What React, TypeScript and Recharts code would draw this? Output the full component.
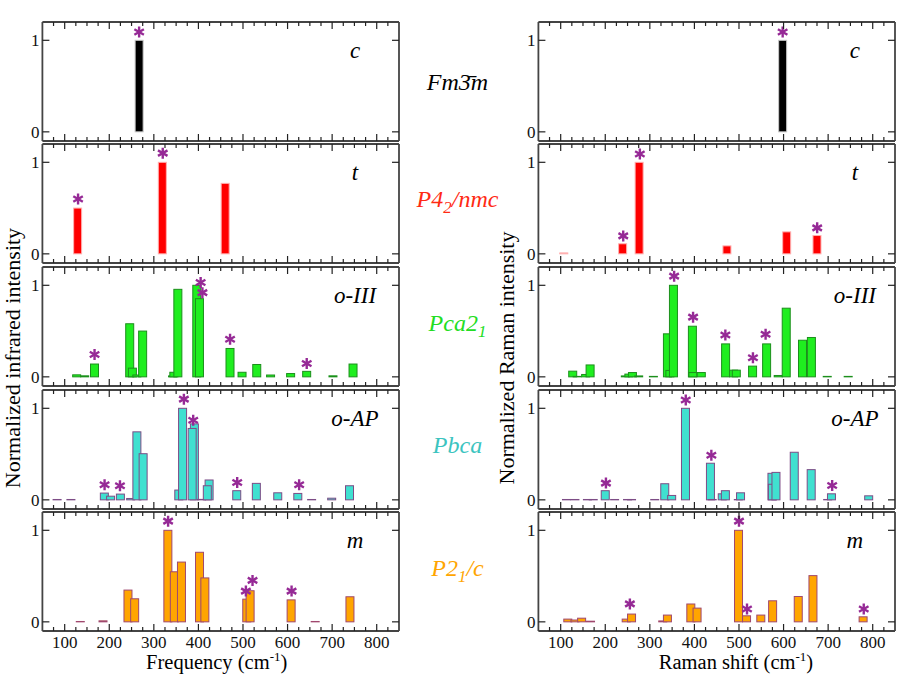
import React from 'react';
import { ComposedChart, Bar, Scatter, XAxis, YAxis } from 'recharts';

// ---- axis ticks ----
const xTickValues = [
  75, 100, 125, 150, 175, 200, 225, 250, 275, 300, 325, 350, 375, 400, 425, 450,
  475, 500, 525, 550, 575, 600, 625, 650, 675, 700, 725, 750, 775, 800, 825,
];
const xLabelValues = [100, 200, 300, 400, 500, 600, 700, 800];
const yTickValues = [0, 1];

const panelNames = ['c', 't', 'o-III', 'o-AP', 'm'];

// ---- infrared (left column) ----
const irCubicFreq = [267];
const irCubicInt = [1];
const irCubicStarFreq = [267];
const irCubicStarInt = [1.09];

const irTetFreq = [130, 320, 461];
const irTetInt = [0.5, 1.0, 0.77];
const irTetStarFreq = [130, 320];
const irTetStarInt = [0.6, 1.1];

const irO3Freq = [127, 145, 167, 246, 252, 262, 275, 342, 345, 354, 396.5, 402.5, 471, 498, 531, 562, 607, 643, 702, 747];
const irO3Int = [0.022, 0.011, 0.14, 0.58, 0.095, 0.02, 0.5, 0.01, 0.05, 0.956, 1.0, 0.854, 0.31, 0.05, 0.135, 0.02, 0.036, 0.06, 0.011, 0.14];
const irO3StarFreq = [167, 405, 409, 471, 643];
const irO3StarInt = [0.245, 1.03, 0.92, 0.41, 0.146];

const irApFreq = [83, 114, 189, 203, 225, 248, 262, 276, 356, 364.5, 391, 386, 407, 424, 420, 486, 530, 578, 623, 654, 699, 739];
const irApInt = [0.004, 0.004, 0.074, 0.04, 0.063, 0.015, 0.743, 0.504, 0.107, 1.0, 0.83, 0.78, 0.005, 0.217, 0.154, 0.1, 0.18, 0.077, 0.07, 0.004, 0.018, 0.154];
const irApStarFreq = [189.5, 224, 367.4, 388.3, 487, 626];
const irApStarInt = [0.165, 0.154, 1.1, 0.87, 0.19, 0.165];

const irMonoFreq = [135, 186, 242, 257, 331.5, 346, 362, 402.5, 414.5, 508.5, 516, 608, 662, 740];
const irMonoInt = [0.004, 0.011, 0.347, 0.252, 1.0, 0.547, 0.653, 0.76, 0.48, 0.248, 0.34, 0.24, 0.004, 0.274];
const irMonoStarFreq = [332, 506.5, 521.4, 609];
const irMonoStarInt = [1.1, 0.336, 0.453, 0.336];

// ---- Raman (right column) ----
const raCubicFreq = [598];
const raCubicInt = [1];
const raCubicStarFreq = [598];
const raCubicStarInt = [1.09];

const raTetFreq = [107, 239, 276, 473, 607, 675];
const raTetInt = [0.01, 0.11, 1.0, 0.087, 0.24, 0.2];
const raTetStarFreq = [240.3, 277.6, 675.4];
const raTetStarInt = [0.196, 1.09, 0.284];

const raO3Freq = [127, 137, 156, 166, 245, 253, 261, 275, 308, 339.5, 345, 353, 395.5, 396.5, 415.5, 470, 488, 494, 530.5, 562, 588, 606, 642.5, 662.5, 698, 745];
const raO3Int = [0.062, 0.005, 0.026, 0.13, 0.01, 0.03, 0.047, 0.01, 0.005, 0.47, 0.07, 1.0, 0.553, 0.047, 0.047, 0.36, 0.073, 0.073, 0.117, 0.36, 0.015, 0.75, 0.4, 0.43, 0.005, 0.005];
const raO3StarFreq = [354.5, 397, 469.4, 531.3, 559.7];
const raO3StarInt = [1.1, 0.652, 0.458, 0.209, 0.465];

const raApFreq = [113, 132, 160, 173, 200, 221, 250, 259, 311, 333.5, 349, 380, 436, 440, 462.5, 469.5, 498.5, 503.5, 574, 575, 583, 624, 662, 699, 707.5, 791];
const raApInt = [0.004, 0.004, 0.004, 0.004, 0.1, 0.004, 0.004, 0.004, 0.004, 0.176, 0.048, 1.0, 0.4, 0.004, 0.066, 0.1, 0.004, 0.077, 0.29, 0.17, 0.3, 0.52, 0.33, 0.004, 0.066, 0.044];
const raApStarFreq = [201.5, 380.6, 438, 709];
const raApStarInt = [0.183, 1.09, 0.487, 0.157];

const raMonoFreq = [116, 132, 147, 167, 247, 259, 329, 339.5, 392, 406, 499, 517, 549, 575.5, 633, 666, 778.5];
const raMonoInt = [0.03, 0.02, 0.04, 0.007, 0.03, 0.085, 0.01, 0.074, 0.195, 0.15, 1.0, 0.066, 0.074, 0.23, 0.277, 0.505, 0.055];
const raMonoStarFreq = [255.2, 500, 518, 779.9];
const raMonoStarInt = [0.196, 1.1, 0.14, 0.14];

// ---- styling ----
const SERIF = {
  fontFamily:
    "'Liberation Serif', 'Times New Roman', Times, Tinos, 'DejaVu Serif', 'Noto Serif', FreeSerif, serif",
};
const barFills = ['#000000', '#ff0000', '#1fee1f', '#40e0d0', '#ffa500'];
const barStrokes = ['#c8c8c8', '#ffb0b0', '#1c8f1c', '#7d4c86', '#a0486e'];
const groupColors = ['#000000', '#ff2a14', '#22dd22', '#3cc4c0', '#ffa500'];
const STAR = '#962a96';
const TICK = '#222';
const FRAME = { stroke: '#444', strokeWidth: 1.8 };

const PLOT_LEFT = 42.4;
const PLOT_W = 356.6;
const RIGHT_COL = 538.3;
const TOP0 = 21.7;
const PITCH = 122.6;
const PLOT_H = 119;
const YAXIS_W = 30;
const PAD_TOP = 5;
const PAD_BOTTOM = 30;
const CHART_W = PLOT_LEFT + PLOT_W + 10;
const CHART_H = PAD_TOP + PLOT_H + PAD_BOTTOM;
const BAR_W = 8;

const toRows = (freq: number[], int: number[]) => freq.map((x, i) => ({ x, y: int[i] }));

const irPanels = [
  { bars: toRows(irCubicFreq, irCubicInt), stars: toRows(irCubicStarFreq, irCubicStarInt) },
  { bars: toRows(irTetFreq, irTetInt), stars: toRows(irTetStarFreq, irTetStarInt) },
  { bars: toRows(irO3Freq, irO3Int), stars: toRows(irO3StarFreq, irO3StarInt) },
  { bars: toRows(irApFreq, irApInt), stars: toRows(irApStarFreq, irApStarInt) },
  { bars: toRows(irMonoFreq, irMonoInt), stars: toRows(irMonoStarFreq, irMonoStarInt) },
];
const ramanPanels = [
  { bars: toRows(raCubicFreq, raCubicInt), stars: toRows(raCubicStarFreq, raCubicStarInt) },
  { bars: toRows(raTetFreq, raTetInt), stars: toRows(raTetStarFreq, raTetStarInt) },
  { bars: toRows(raO3Freq, raO3Int), stars: toRows(raO3StarFreq, raO3StarInt) },
  { bars: toRows(raApFreq, raApInt), stars: toRows(raApStarFreq, raApStarInt) },
  { bars: toRows(raMonoFreq, raMonoInt), stars: toRows(raMonoStarFreq, raMonoStarInt) },
];

function Asterisk(props: any) {
  const { cx, cy } = props;
  if (cx == null || cy == null) return null;
  const r = 5.5;
  const dx = r * Math.cos(Math.PI / 6);
  const dy = r * Math.sin(Math.PI / 6);
  return (
    <g stroke={STAR} strokeWidth={2.4}>
      <line x1={cx} y1={cy - r} x2={cx} y2={cy + r} />
      <line x1={cx - dx} y1={cy - dy} x2={cx + dx} y2={cy + dy} />
      <line x1={cx - dx} y1={cy + dy} x2={cx + dx} y2={cy - dy} />
    </g>
  );
}

// fixed-width rectangle centred where the library put the bar
const makeBarShape = (fill: string, stroke: string) => (props: any) => {
  const { x, y, width, height } = props;
  if (x == null || y == null) return null;
  const cx = x + width / 2;
  return (
    <rect x={cx - BAR_W / 2} y={y} width={BAR_W} height={Math.max(height, 0)}
      fill={fill} stroke={stroke} strokeWidth={1} />
  );
};

const makeXTick = (side: 'top' | 'bottom', showLabel: boolean) => (p: any) => {
  const { x, y, payload } = p;
  const major = xLabelValues.includes(payload.value);
  const len = major ? 7 : 4;
  const dir = side === 'bottom' ? -1 : 1;
  return (
    <g>
      <line x1={x} x2={x} y1={y} y2={y + dir * len} stroke={TICK} strokeWidth={1.2} />
      {showLabel && major && (
        <text x={x} y={y + 16.5} textAnchor="middle" fontSize={17} style={SERIF} fill="#111">
          {payload.value}
        </text>
      )}
    </g>
  );
};

const makeYTick = (side: 'left' | 'right') => (p: any) => {
  const { x, y, payload } = p;
  const dir = side === 'left' ? 1 : -1;
  return (
    <g>
      <line x1={x} x2={x + dir * 7} y1={y} y2={y} stroke={TICK} strokeWidth={1.2} />
      {side === 'left' && (
        <text x={x - 3} y={y + 6} textAnchor="end" fontSize={17} style={SERIF} fill="#111">
          {payload.value}
        </text>
      )}
    </g>
  );
};

function Panel({ idx, left, bars, stars, showXLabels }: any) {
  return (
    <div style={{ position: 'absolute', left, top: TOP0 + idx * PITCH - PAD_TOP }}>
      <ComposedChart
        width={CHART_W}
        height={CHART_H}
        data={bars}
        margin={{ top: PAD_TOP - 1, right: 9, bottom: PAD_BOTTOM - 1, left: PLOT_LEFT - YAXIS_W }}
      >
        <XAxis xAxisId="b" dataKey="x" type="number" orientation="bottom" domain={[50, 850]}
          allowDataOverflow ticks={xTickValues} interval={0} height={1} tickSize={0} tickMargin={0}
          tickLine={false} axisLine={FRAME} tick={makeXTick('bottom', showXLabels)} />
        <XAxis xAxisId="t" dataKey="x" type="number" orientation="top" domain={[50, 850]}
          allowDataOverflow ticks={xTickValues} interval={0} height={1} tickSize={0} tickMargin={0}
          tickLine={false} axisLine={FRAME} tick={makeXTick('top', false)} />
        <YAxis yAxisId="l" type="number" domain={[-0.1, 1.2]} allowDataOverflow ticks={yTickValues}
          interval={0} width={YAXIS_W} tickSize={0} tickMargin={0} tickLine={false} axisLine={FRAME}
          tick={makeYTick('left')} />
        <YAxis yAxisId="r" type="number" orientation="right" domain={[-0.1, 1.2]} allowDataOverflow
          ticks={yTickValues} interval={0} width={1} tickSize={0} tickMargin={0} tickLine={false}
          axisLine={FRAME} tick={makeYTick('right')} />
        <Bar xAxisId="b" yAxisId="l" dataKey="y" barSize={BAR_W} fill={barFills[idx]}
          stroke={barStrokes[idx]} shape={makeBarShape(barFills[idx], barStrokes[idx])}
          isAnimationActive={false} />
        <Scatter xAxisId="b" yAxisId="l" data={stars} dataKey="y" shape={Asterisk}
          isAnimationActive={false} />
      </ComposedChart>
    </div>
  );
}

const groupBaselines = [90, 207, 331, 453, 576];

export default function App() {
  return (
    <div style={{ position: 'absolute', left: 0, top: 0, width: 900, height: 695, background: '#fff' }}>
      {irPanels.map((p, i) => (
        <Panel key={`ir-${i}`} idx={i} left={0} bars={p.bars} stars={p.stars} showXLabels={i === 4} />
      ))}
      {ramanPanels.map((p, i) => (
        <Panel key={`ra-${i}`} idx={i} left={RIGHT_COL - PLOT_LEFT} bars={p.bars} stars={p.stars}
          showXLabels={i === 4} />
      ))}
      <svg width={900} height={695} style={{ position: 'absolute', left: 0, top: 0, pointerEvents: 'none', ...SERIF }}>
        {panelNames.map((n, i) => (
          <g key={n} fontStyle="italic" fontSize={23} textAnchor="middle" fill="#000" style={SERIF}>
            <text x={PLOT_LEFT + PLOT_W - 44} y={TOP0 + i * PITCH + 36}>{n}</text>
            <text x={RIGHT_COL + PLOT_W - 40} y={TOP0 + i * PITCH + 36}>{n}</text>
          </g>
        ))}
        <g fontStyle="italic" fontSize={24} textAnchor="middle" style={SERIF}>
          <text x={457.5} y={groupBaselines[0]} fill={groupColors[0]}>Fm3{'\u0304'}m</text>
          <text x={457.5} y={groupBaselines[1]} fill={groupColors[1]}>
            P4<tspan dy={6} fontSize={17}>2</tspan><tspan dy={-6}>/nmc</tspan>
          </text>
          <text x={457.5} y={groupBaselines[2]} fill={groupColors[2]}>
            Pca2<tspan dy={6} fontSize={17}>1</tspan>
          </text>
          <text x={457.5} y={groupBaselines[3]} fill={groupColors[3]}>Pbca</text>
          <text x={457.5} y={groupBaselines[4]} fill={groupColors[4]}>
            P2<tspan dy={6} fontSize={17}>1</tspan><tspan dy={-6}>/c</tspan>
          </text>
        </g>
        <g fontSize={20.5} textAnchor="middle" fill="#000" style={SERIF}>
          <text x={216.7} y={669}>
            Frequency (cm<tspan dy={-8} fontSize={13}>-1</tspan><tspan dy={8}>)</tspan>
          </text>
          <text x={736} y={669}>
            Raman shift (cm<tspan dy={-8} fontSize={13}>-1</tspan><tspan dy={8}>)</tspan>
          </text>
        </g>
        <g fontSize={22} textAnchor="middle" fill="#000" style={SERIF}>
          <text transform="rotate(-90)" x={-358} y={20}>Normalized infrared intensity</text>
          <text transform="rotate(-90)" x={-358} y={514}>Normalized Raman intensity</text>
        </g>
      </svg>
    </div>
  );
}
